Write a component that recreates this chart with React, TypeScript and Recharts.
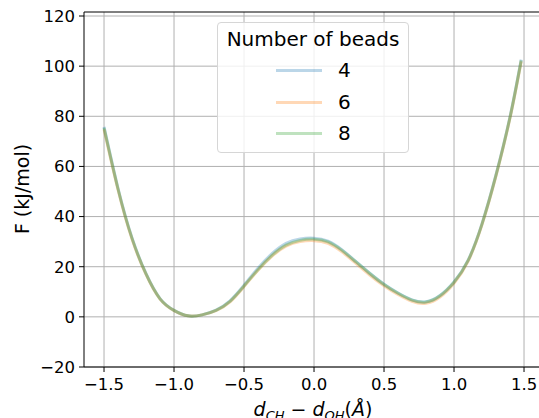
import React from 'react';
import {
  LineChart, Line, CartesianGrid, XAxis, YAxis, Legend, ReferenceLine,
} from 'recharts';

// reaction coordinate d_CH - d_OH (Å)
const xs = [
  -1.5, -1.4, -1.3, -1.2, -1.1, -1.0, -0.9, -0.8, -0.7, -0.6, -0.5, -0.4, -0.3, -0.2, -0.1,
  0.0, 0.1, 0.2, 0.3, 0.4, 0.5, 0.6, 0.7, 0.8, 0.9, 1.0, 1.1, 1.2, 1.3, 1.4, 1.48,
];

// free energy F (kJ/mol) per number of beads
const f4 = [
  75.8, 51.3, 31.5, 17.2, 7.3, 2.6, 0.4, 0.8, 2.7, 6.4, 12.6, 19.4, 25.2, 29.3, 31.1,
  31.4, 30.2, 26.7, 22.0, 17.3, 13.0, 9.5, 6.8, 6.0, 8.5, 13.9, 22.5, 37.2, 56.7, 79.8, 102.6,
];
const f6 = [
  74.8, 50.7, 31.0, 16.9, 7.1, 2.5, 0.4, 0.8, 2.5, 6.0, 12.1, 18.6, 24.2, 28.2, 30.0,
  30.4, 29.3, 25.9, 21.3, 16.6, 12.4, 8.9, 6.2, 5.4, 7.9, 13.4, 22.1, 36.8, 56.2, 79.3, 101.9,
];
const f8 = [
  75.4, 51.0, 31.3, 17.1, 7.2, 2.6, 0.4, 0.8, 2.6, 6.2, 12.3, 18.8, 24.5, 28.6, 30.5,
  31.0, 29.9, 26.5, 21.9, 17.2, 12.9, 9.4, 6.7, 5.9, 8.4, 13.8, 22.4, 37.0, 56.5, 79.6, 102.3,
];

const beads = ['4', '6', '8'];
const colors = ['#1f77b4', '#ff7f0e', '#2ca02c'];
const xTicks = [-1.5, -1.0, -0.5, 0.0, 0.5, 1.0, 1.5];
const yTicks = [-20, 0, 20, 40, 60, 80, 100, 120];

const data = xs.map((x, i) => ({ x, b4: f4[i], b6: f6[i], b8: f8[i] }));

const FONT = 'DejaVu Sans, sans-serif';
const fmtX = (v: number) => (v < 0 ? '\u2212' : '') + Math.abs(v).toFixed(1);
const fmtY = (v: number) => (v < 0 ? '\u2212' : '') + Math.abs(v);

const LegendBox = () => (
  <div
    style={{
      width: 190, height: 129, border: '1px solid #d6d6d6', borderRadius: 4,
      background: 'rgba(255,255,255,0.8)', fontFamily: FONT, fontSize: 20, color: '#000',
      position: 'relative',
    }}
  >
    <div style={{ position: 'absolute', top: 4, width: '100%', textAlign: 'center' }}>Number of beads</div>
    {beads.map((b, i) => (
      <div key={b} style={{ position: 'absolute', top: 34 + i * 31.5, left: 0, height: 26 }}>
        <span
          style={{
            position: 'absolute', left: 58, top: 12, width: 46, height: 3,
            background: colors[i], opacity: 0.3,
          }}
        />
        <span style={{ position: 'absolute', left: 120, top: 0, lineHeight: '26px' }}>{b}</span>
      </div>
    ))}
  </div>
);

const XLabel = () => (
  <text x={313} y={416} textAnchor="middle" fontFamily={FONT} fontSize={19} fill="#000">
    <tspan fontStyle="italic">d</tspan>
    <tspan fontStyle="italic" fontSize={13} dy={4}>CH</tspan>
    <tspan dy={-4}> {'\u2212'} </tspan>
    <tspan fontStyle="italic">d</tspan>
    <tspan fontStyle="italic" fontSize={13} dy={4}>OH</tspan>
    <tspan dy={-4}>(</tspan>
    <tspan fontStyle="italic">Å</tspan>
    <tspan>)</tspan>
  </text>
);

const YLabel = () => (
  <text
    x={22} y={189} textAnchor="middle" dominantBaseline="central"
    transform="rotate(-90 22 189)" fontFamily={FONT} fontSize={19} fill="#000"
  >
    F (kJ/mol)
  </text>
);

export default function App() {
  return (
    <div style={{ position: 'absolute', left: 0, top: 0, width: 539, height: 418, background: '#fff' }}>
      <LineChart
        width={539}
        height={418}
        data={data}
        margin={{ top: 12, right: 0, left: 0, bottom: 0 }}
      >
        <CartesianGrid stroke="#b0b0b0" strokeWidth={1} horizontalValues={yTicks} verticalValues={xTicks} />
        <XAxis
          dataKey="x"
          type="number"
          domain={[-1.643, 1.607]}
          allowDataOverflow
          ticks={xTicks}
          tickFormatter={fmtX}
          height={51}
          tickSize={5}
          tickMargin={6}
          axisLine={{ stroke: '#000', strokeWidth: 1 }}
          tickLine={{ stroke: '#000' }}
          tick={{ fill: '#000', fontSize: 16.5, fontFamily: FONT }}
          label={<XLabel />}
        />
        <YAxis
          type="number"
          domain={[-20, 121.6]}
          allowDataOverflow
          ticks={yTicks}
          tickFormatter={fmtY}
          width={84}
          tickSize={5}
          tickMargin={4}
          axisLine={{ stroke: '#000', strokeWidth: 1 }}
          tickLine={{ stroke: '#000' }}
          tick={{ fill: '#000', fontSize: 16.5, fontFamily: FONT }}
          label={<YLabel />}
        />
        <ReferenceLine y={121.6} stroke="#000" strokeWidth={1} />
        <Legend
          layout="vertical"
          align="center"
          verticalAlign="middle"
          wrapperStyle={{ left: 217, top: 22, width: 192, height: 131 }}
          content={() => <LegendBox />}
        />
        {beads.map((b, i) => (
          <Line
            key={b}
            type="natural"
            dataKey={'b' + b}
            name={b}
            stroke={colors[i]}
            strokeOpacity={0.3}
            strokeWidth={3}
            dot={false}
            isAnimationActive={false}
          />
        ))}
      </LineChart>
    </div>
  );
}
